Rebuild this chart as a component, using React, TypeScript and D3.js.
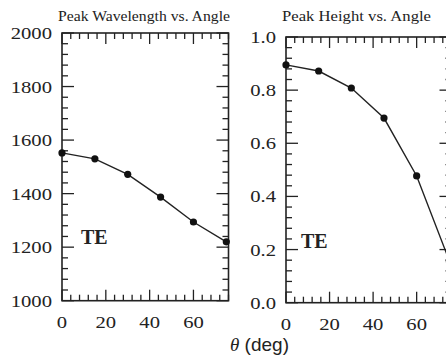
import * as d3 from "d3";

const angles = [0, 15, 30, 45, 60, 75];
const wavelength = [1552, 1530, 1472, 1387, 1294, 1220];
const height = [0.895, 0.872, 0.808, 0.695, 0.477, 0.158];
const xTicks = [0, 20, 40, 60];
const wlTicks = [1000, 1200, 1400, 1600, 1800, 2000];
const htTicks = [0, 0.2, 0.4, 0.6, 0.8, 1.0];

const SERIF = "Liberation Serif";
const SANS = "Liberation Sans";

interface PanelProps {
  title: string;
  titleWidth: number;
  values: number[];
  yDomain: [number, number];
  yTicks: number[];
  yMinorStep: number;
  fmt: (v: number) => string;
  box: { x0: number; x1: number; y0: number; y1: number };
  tePos: [number, number];
}

function Panel({ title, titleWidth, values, yDomain, yTicks, yMinorStep, fmt, box, tePos }: PanelProps) {
  const x = d3.scaleLinear().domain([0, 76]).range([box.x0, box.x1]);
  const y = d3.scaleLinear().domain(yDomain).range([box.y1, box.y0]);
  const xMinor = d3.range(0, 76.01, 4);
  const yMinor = d3.range(yDomain[0], yDomain[1] + yMinorStep / 2, yMinorStep);
  const isMajorX = (v: number) => v % 20 === 0;
  const isMajorY = (v: number) => yTicks.some((t) => Math.abs(t - v) < yMinorStep / 10);
  const line = d3
    .line<number>()
    .x((_, i) => x(angles[i]))
    .y((d) => y(d));

  return (
    <g>
      <text x={box.x0 - 4} y={21} style={{ fontFamily: SERIF, fontSize: 14 }} textLength={titleWidth} lengthAdjust="spacingAndGlyphs" fill="#222">
        {title}
      </text>
      <rect x={box.x0} y={box.y0} width={box.x1 - box.x0} height={box.y1 - box.y0} fill="none" stroke="#222" strokeWidth={1.6} />
      {xMinor.map((v) => {
        const len = isMajorX(v) ? 11 : 6;
        return (
          <g key={"x" + v} stroke="#222" strokeWidth={1.3}>
            <line x1={x(v)} x2={x(v)} y1={box.y1} y2={box.y1 - len} />
            <line x1={x(v)} x2={x(v)} y1={box.y0} y2={box.y0 + len} />
          </g>
        );
      })}
      {yMinor.map((v) => {
        const len = isMajorY(v) ? 12 : 6;
        return (
          <g key={"y" + v} stroke="#222" strokeWidth={1.3}>
            <line x1={box.x0} x2={box.x0 + len} y1={y(v)} y2={y(v)} />
            <line x1={box.x1} x2={box.x1 - len} y1={y(v)} y2={y(v)} />
          </g>
        );
      })}
      {yTicks.map((v) => (
        <g key={"yl" + v} transform={`translate(${box.x0 - 10},${y(v) + 6}) scale(1.18,1)`}>
          <text textAnchor="end" style={{ fontFamily: SERIF, fontSize: 17.5 }} fill="#222">
            {fmt(v)}
          </text>
        </g>
      ))}
      {xTicks.map((v) => (
        <g key={"xl" + v} transform={`translate(${x(v)},${box.y1 + 27}) scale(1.18,1)`}>
          <text textAnchor="middle" style={{ fontFamily: SERIF, fontSize: 17.5 }} fill="#222">
            {v}
          </text>
        </g>
      ))}
      <path d={line(values) ?? ""} fill="none" stroke="#222" strokeWidth={1.4} />
      {values.map((v, i) => (
        <circle key={"p" + i} cx={x(angles[i])} cy={y(v)} r={3.6} fill="#111" />
      ))}
      <text x={tePos[0]} y={tePos[1]} style={{ fontFamily: SERIF, fontSize: 20, fontWeight: "bold" }} fill="#222">
        TE
      </text>
    </g>
  );
}

export default function App() {
  return (
    <svg width={446} height={359} style={{ position: "absolute", left: 0, top: 0, background: "#fff" }}>
      <rect width={446} height={359} fill="#fff" />
      <Panel
        title="Peak Wavelength vs. Angle"
        titleWidth={172}
        values={wavelength}
        yDomain={[1000, 2000]}
        yTicks={wlTicks}
        yMinorStep={40}
        fmt={(v) => String(v)}
        box={{ x0: 62, x1: 228.5, y0: 33, y1: 300.7 }}
        tePos={[81, 244]}
      />
      <Panel
        title="Peak Height vs. Angle"
        titleWidth={149}
        values={height}
        yDomain={[0, 1]}
        yTicks={htTicks}
        yMinorStep={0.04}
        fmt={(v) => v.toFixed(1)}
        box={{ x0: 286, x1: 451.5, y0: 37, y1: 302.7 }}
        tePos={[301, 248]}
      />
      <text x={230} y={351} fill="#222" style={{ fontSize: 19 }}>
        <tspan style={{ fontFamily: SERIF, fontStyle: "italic" }}>θ</tspan>
        <tspan style={{ fontFamily: SANS }}> (deg)</tspan>
      </text>
    </svg>
  );
}
